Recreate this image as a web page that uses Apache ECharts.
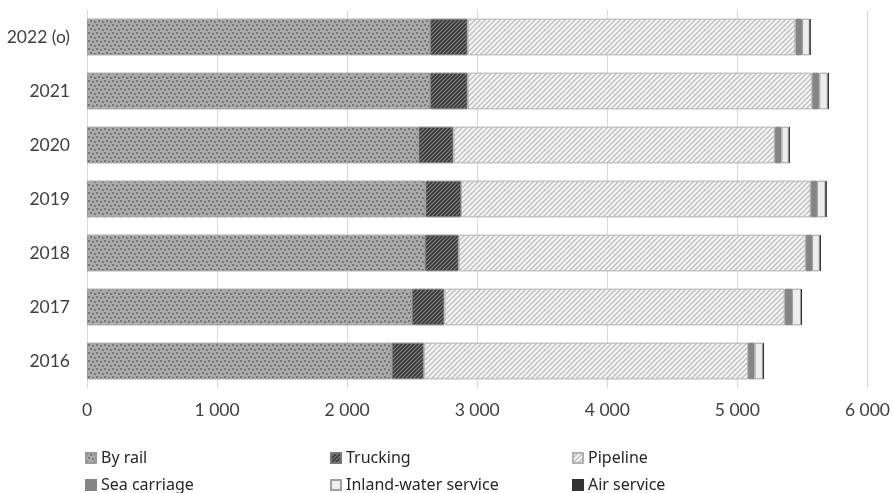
<!DOCTYPE html>
<html><head><meta charset="utf-8">
<script src="https://cdn.jsdelivr.net/npm/echarts@6/dist/echarts.min.js"></script>
<style>html,body{margin:0;padding:0;background:#fff}#c{width:893px;height:493px}</style>
</head><body><div id="c"></div>
<script>
const categories = ['2016','2017','2018','2019','2020','2021','2022 (o)'];
const seriesNames = ['By rail','Trucking','Pipeline','Sea carriage','Inland-water service','Air service'];
const rail     = [2343, 2497, 2599, 2602, 2548, 2638, 2638];
const trucking = [246, 250, 258, 273, 269, 288, 288];
const pipeline = [2494, 2617, 2669, 2689, 2471, 2650, 2521];
const sea      = [49, 56, 48, 49, 51, 54, 50];
const inland   = [64, 69, 59, 64, 56, 64, 59];
const air      = [9, 8, 9, 10, 9, 10, 7];
const xTicks = [0, 1000, 2000, 3000, 4000, 5000, 6000];

function tile(w, h, draw) {
  const c = document.createElement('canvas');
  c.width = w; c.height = h;
  draw(c.getContext('2d'));
  return c;
}
const railPat = tile(8, 8, g => {
  g.fillStyle = '#ababab'; g.fillRect(0,0,8,8);
  g.fillStyle = '#767676';
  g.fillRect(0,0,2,2); g.fillRect(4,1,2,2); g.fillRect(2,4,2,2); g.fillRect(6,5,2,2);
});
const truckPat = tile(4, 4, g => {
  g.fillStyle = '#363636'; g.fillRect(0,0,4,4);
  g.strokeStyle = '#858585'; g.lineWidth = 1.2;
  g.beginPath();
  g.moveTo(-1,5); g.lineTo(5,-1);
  g.moveTo(-1,1); g.lineTo(1,-1);
  g.moveTo(3,5); g.lineTo(5,3);
  g.stroke();
});
const pipePat = tile(5, 5, g => {
  g.fillStyle = '#f4f4f4'; g.fillRect(0,0,5,5);
  g.strokeStyle = '#bdbdbd'; g.lineWidth = 1.3;
  g.beginPath();
  g.moveTo(-1,6); g.lineTo(6,-1);
  g.moveTo(-1,1); g.lineTo(1,-1);
  g.moveTo(4,6); g.lineTo(6,4);
  g.stroke();
});
const fills = [
  {image: railPat, repeat: 'repeat'},
  {image: truckPat, repeat: 'repeat'},
  {image: pipePat, repeat: 'repeat'},
  '#858585', '#ededed', '#333333'
];
const borders = ['#9a9a9a','#7a7a7a','#b0b0b0','#858585','#a0a0a0','#333333'];
const values = [rail, trucking, pipeline, sea, inland, air];

const font = 'Lato';
const legendPos = [[85,450],[330,450],[572,450],[85,477],[330,477],[572,477]];
const legends = seriesNames.map((n, i) => ({
  data: [n], left: legendPos[i][0], top: legendPos[i][1],
  icon: 'rect', itemWidth: 10, itemHeight: 10, itemGap: 0, padding: 0,
  textStyle: {fontFamily: 'Noto Sans', fontSize: 16, color: '#262626', padding: [0,0,0,0]},
  selectedMode: false
}));

const chart = echarts.init(document.getElementById('c'), null, {renderer: 'canvas'});
chart.setOption({
  animation: false,
  grid: {left: 87, right: 24, top: 10, bottom: 105, containLabel: false},
  legend: legends,
  xAxis: {
    type: 'value', min: 0, max: 6000, interval: 1000,
    axisLine: {show: false}, axisTick: {show: false},
    splitLine: {show: true, lineStyle: {color: '#d9d9d9', width: 1}},
    axisLabel: {
      margin: 13, fontFamily: font, fontSize: 17.5, color: '#404040',
      formatter: v => xTicks.includes(v) ? String(v).replace(/\B(?=(\d{3})+(?!\d))/g, ' ') : ''
    }
  },
  yAxis: {
    type: 'category', data: categories,
    axisLine: {show: false}, axisTick: {show: false},
    axisLabel: {margin: 17, fontFamily: font, fontSize: 17.5, color: '#404040'}
  },
  series: seriesNames.map((n, i) => ({
    name: n, type: 'bar', stack: 'total', data: values[i],
    barWidth: '68%',
    itemStyle: {color: fills[i], borderColor: borders[i], borderWidth: 1}
  }))
});
</script></body></html>
